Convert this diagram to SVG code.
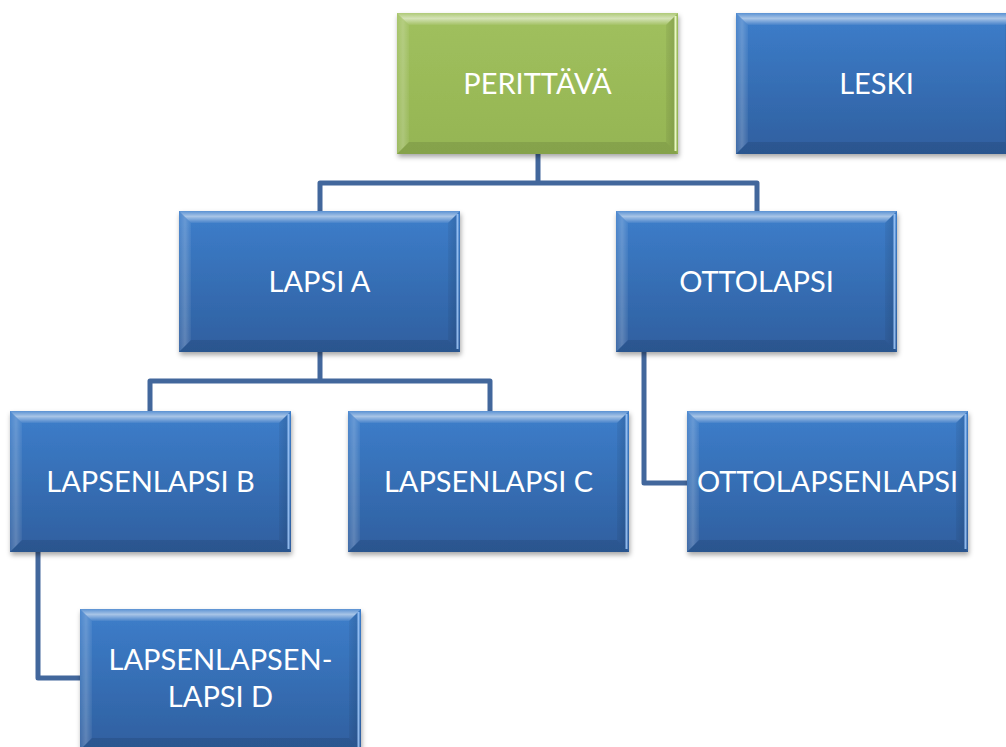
<svg xmlns="http://www.w3.org/2000/svg" xmlns:xlink="http://www.w3.org/1999/xlink" width="1006" height="747" viewBox="0 0 1006 747">
  <defs>
    <style>
      .link { fill: none; stroke: #42679c; stroke-width: 5; stroke-linejoin: round; }
      .label { font-family: "Lato", "Liberation Sans", sans-serif; font-size: 29px; fill: #ffffff; text-anchor: middle; }
    </style>
    <filter id="shadow" x="-10%" y="-10%" width="125%" height="130%">
      <feDropShadow dx="1" dy="3" stdDeviation="2.5" flood-color="#000000" flood-opacity="0.35"/>
    </filter>
    <linearGradient id="blueFill" x1="0" y1="0" x2="0" y2="1">
      <stop offset="0" stop-color="#3d7ecb"/>
      <stop offset="1" stop-color="#2f5f9f"/>
    </linearGradient>
    <linearGradient id="greenFill" x1="0" y1="0" x2="0" y2="1">
      <stop offset="0" stop-color="#a0c05e"/>
      <stop offset="1" stop-color="#95b553"/>
    </linearGradient>
    <linearGradient id="topShine" x1="0" y1="0" x2="0" y2="1">
      <stop offset="0" stop-color="#ffffff" stop-opacity="0.15"/>
      <stop offset="0.45" stop-color="#ffffff" stop-opacity="0.55"/>
      <stop offset="1" stop-color="#ffffff" stop-opacity="0.05"/>
    </linearGradient>
    <linearGradient id="leftShine" x1="0" y1="0" x2="1" y2="0">
      <stop offset="0" stop-color="#ffffff" stop-opacity="0.08"/>
      <stop offset="0.5" stop-color="#ffffff" stop-opacity="0.22"/>
      <stop offset="1" stop-color="#ffffff" stop-opacity="0.05"/>
    </linearGradient>
    <linearGradient id="rightShade" x1="0" y1="0" x2="1" y2="0">
      <stop offset="0" stop-color="#000000" stop-opacity="0.05"/>
      <stop offset="0.6" stop-color="#000000" stop-opacity="0.12"/>
      <stop offset="1" stop-color="#000000" stop-opacity="0"/>
    </linearGradient>

    <!-- bevelled tile, 281 x 141 -->
    <g id="bevel">
      <polygon points="0,0 281,0 269,12 12,12" fill="url(#topShine)"/>
      <polygon points="0,0 12,12 12,129 0,141" fill="url(#leftShine)"/>
      <polygon points="281,0 281,141 269,129 269,12" fill="url(#rightShade)"/>
      <polygon points="0,141 12,129 269,129 281,141" fill="#000000" fill-opacity="0.1"/>
    </g>
    <g id="blueBox">
      <rect x="0" y="0" width="281" height="141" fill="url(#blueFill)" filter="url(#shadow)"/>
      <use xlink:href="#bevel"/>
      <line x1="278.5" y1="3" x2="278.5" y2="138" stroke="#a9d0ff" stroke-width="2" stroke-opacity="0.8"/>
    </g>
    <g id="greenBox">
      <rect x="0" y="0" width="281" height="141" fill="url(#greenFill)" filter="url(#shadow)"/>
      <use xlink:href="#bevel"/>
      <line x1="278.5" y1="3" x2="278.5" y2="138" stroke="#f2ffd0" stroke-width="2" stroke-opacity="0.9"/>
    </g>
  </defs>

  <rect width="1006" height="747" fill="#ffffff"/>

  <g id="connectors">
    <path class="link" d="M538,154 V183 M320,211 V183 H757 V211"/>
    <path class="link" d="M320,352 V381 M150,411 V381 H490 V411"/>
    <path class="link" d="M644,352 V483 H687"/>
    <path class="link" d="M38,552 V678 H80"/>
  </g>

  <g id="perittava" transform="translate(397,13)">
    <use xlink:href="#greenBox"/>
    <text class="label" x="140.5" y="80.5">PERITTÄVÄ</text>
  </g>
  <g id="leski" transform="translate(736,13)">
    <use xlink:href="#blueBox"/>
    <text class="label" x="140.5" y="80.5">LESKI</text>
  </g>
  <g id="lapsi-a" transform="translate(179,211)">
    <use xlink:href="#blueBox"/>
    <text class="label" x="140.5" y="80.5">LAPSI A</text>
  </g>
  <g id="ottolapsi" transform="translate(616,211)">
    <use xlink:href="#blueBox"/>
    <text class="label" x="140.5" y="80.5">OTTOLAPSI</text>
  </g>
  <g id="lapsenlapsi-b" transform="translate(10,411)">
    <use xlink:href="#blueBox"/>
    <text class="label" x="140.5" y="80.5">LAPSENLAPSI B</text>
  </g>
  <g id="lapsenlapsi-c" transform="translate(348,411)">
    <use xlink:href="#blueBox"/>
    <text class="label" x="140.5" y="80.5">LAPSENLAPSI C</text>
  </g>
  <g id="ottolapsenlapsi" transform="translate(687,411)">
    <use xlink:href="#blueBox"/>
    <text class="label" x="140.5" y="80.5">OTTOLAPSENLAPSI</text>
  </g>
  <g id="lapsenlapsenlapsi-d" transform="translate(80,609)">
    <use xlink:href="#blueBox"/>
    <text class="label" x="140.5" y="61">LAPSENLAPSEN-</text>
    <text class="label" x="140.5" y="98">LAPSI D</text>
  </g>
</svg>
